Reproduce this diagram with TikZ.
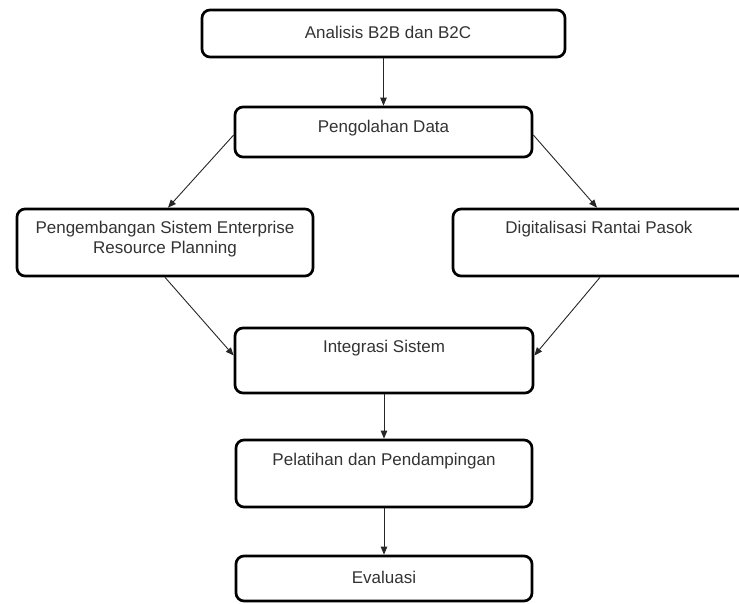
\documentclass[tikz,border=0pt]{standalone}
\usepackage{fontspec}
\setmainfont{Liberation Sans}
\usetikzlibrary{arrows.meta,calc}
\begin{document}
\begin{tikzpicture}[x=1pt,y=-1pt,
  box/.style={draw=black, line width=2.7pt, rounded corners=8pt, fill=white, inner sep=0pt},
  lbl/.style={text=black!80, font=\fontsize{17}{20}\selectfont, align=center, inner sep=0pt},
  conn/.style={draw=black!85, line width=0.9pt, -{Triangle[length=8pt,width=6.5pt]}}]
\useasboundingbox (0,0) rectangle (739,603);
\begin{scope}
\clip (0,0) rectangle (739,603);
\node[box, minimum width=363pt, minimum height=47pt] (n1) at (383.5,33.5) {};
\node[box, minimum width=297pt, minimum height=50pt] (n2) at (383.5,132) {};
\node[box, minimum width=296pt, minimum height=67pt] (n3) at (165,242.5) {};
\node[box, minimum width=294pt, minimum height=67pt] (n4) at (600,242.5) {};
\node[box, minimum width=298pt, minimum height=65pt] (n5) at (384,360.5) {};
\node[box, minimum width=296pt, minimum height=67pt] (n6) at (384,473.5) {};
\node[box, minimum width=296pt, minimum height=45pt] (n7) at (384,578.5) {};
\end{scope}
\node[lbl] (t1) at (388,32) {Analisis B2B dan B2C};
\node[lbl] (t2) at (383.5,128) {Pengolahan Data};
\node[lbl] (t3) at (165,239) {Pengembangan Sistem Enterprise\\Resource Planning};
\node[lbl] (t4) at (599,229) {Digitalisasi Rantai Pasok};
\node[lbl] (t5) at (384,348) {Integrasi Sistem};
\node[lbl] (t6) at (384,461) {Pelatihan dan Pendampingan};
\node[lbl] (t7) at (384,577) {Evaluasi};
\draw[conn] (n1.south) -- (n2.north);
\draw[conn] ($(n2.west)+(0,3)$) -- ($(n3.north)+(3,0)$);
\draw[conn] ($(n2.east)+(0,3)$) -- ($(n4.north)+(-3,0)$);
\draw[conn] (n3.south) -- ($(n5.west)+(0,-5)$);
\draw[conn] (n4.south) -- ($(n5.east)+(0,-5)$);
\draw[conn] (n5.south) -- (n6.north);
\draw[conn] (n6.south) -- (n7.north);
\end{tikzpicture}
\end{document}
